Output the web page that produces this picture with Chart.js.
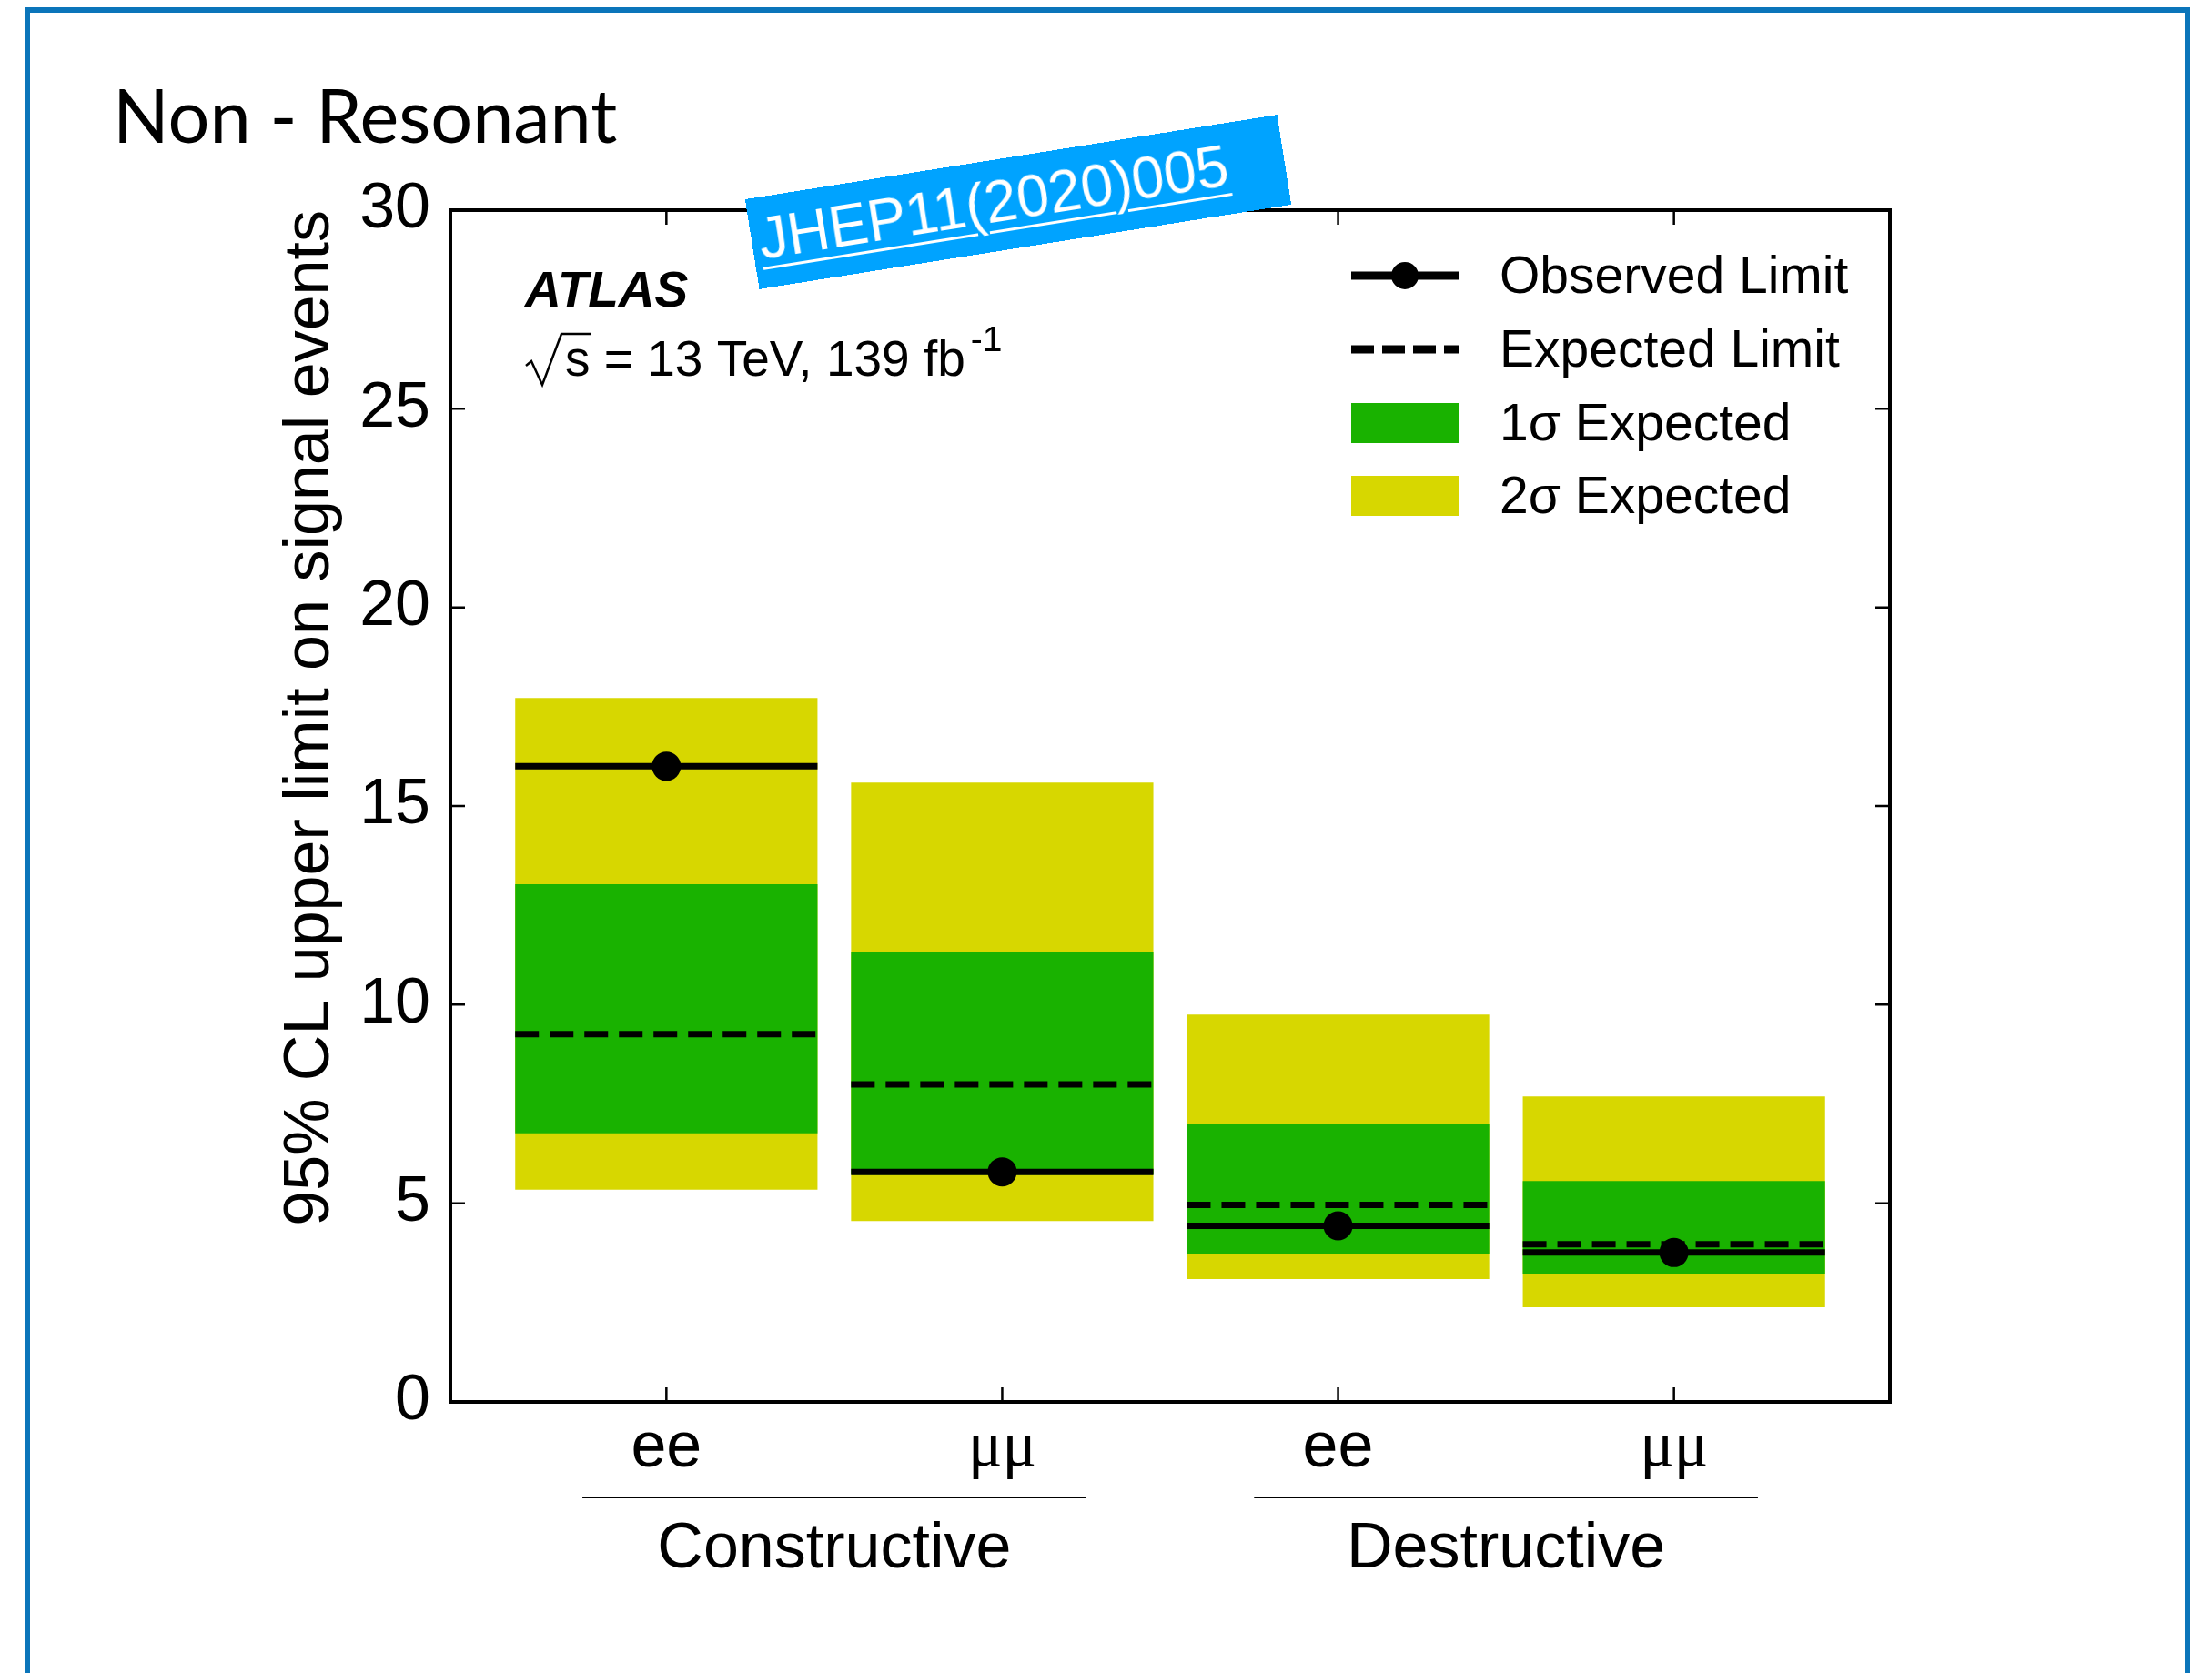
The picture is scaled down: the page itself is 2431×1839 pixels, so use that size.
<!DOCTYPE html>
<html lang="en">
<head>
  <meta charset="UTF-8">
  <title>Non - Resonant limits</title>
  <script src="https://cdn.jsdelivr.net/npm/chart.js"></script>
  <style>
    html, body { margin: 0; padding: 0; background: #fff; overflow: hidden; }
    #frame {
      position: absolute; left: 27px; top: 8px; width: 2380px; height: 2000px;
      border: 6px solid #0b75ba; box-sizing: border-box;
    }
    #chart { position: absolute; left: 0; top: 0; }
    #stamp {
      position: absolute; left: 823px; top: 172px; width: 592px; height: 100px;
      background: #00a3ff; transform: rotate(-9.03deg);
      font: 64px 'Liberation Sans', Arial, sans-serif; line-height: 92px;
      padding-left: 8px; box-sizing: border-box; white-space: nowrap;
    }
    #stamp span {
      color: #fff; text-decoration: underline;
      text-decoration-thickness: 3px; text-underline-offset: 9px;
    }
  </style>
</head>
<body>
  <div id="frame"></div>
  <canvas id="chart" width="2431" height="1839"></canvas>
  <div id="stamp"><span>JHEP11(2020)005</span></div>

  <script>
    // channels along x, grouped by interference type
    const channels = ['ee', 'μμ', 'ee', 'μμ'];
    const interference = ['Constructive', 'Destructive'];
    const channelGroup = [0, 0, 1, 1];

    // 95% CL upper limits on signal events
    const observed = [16.0, 5.79, 4.43, 3.76];
    const expected = [9.26, 7.99, 4.96, 3.97];
    const band1Lo = [6.76, 5.72, 3.73, 3.23];
    const band1Hi = [13.03, 11.33, 7.00, 5.56];
    const band2Lo = [5.34, 4.55, 3.09, 2.38];
    const band2Hi = [17.72, 15.59, 9.75, 7.69];

    const yMin = 0, yMax = 30, yStep = 5;

    const SANS = "'Liberation Sans', Arial, Helvetica, sans-serif";
    const SERIF = "'Liberation Serif', 'Times New Roman', serif";
    const GREEN = '#19b200';
    const YELLOW = '#d7d700';
    const halfWidth = 0.45;

    Chart.defaults.font.family = SANS;
    Chart.defaults.color = '#000';

    function band(lo, hi) {
      return channels.map((_, i) => ({ x: i + 1, y: [lo[i], hi[i]] }));
    }

    // one flat segment per channel, broken by a null point
    function segments(values) {
      const pts = [];
      values.forEach((v, i) => {
        const c = i + 1;
        pts.push({ x: c - halfWidth, y: v }, { x: c + halfWidth, y: v }, { x: c + 0.5, y: null });
      });
      return pts;
    }

    const decor = {
      id: 'decor',
      afterDraw(chart) {
        const { ctx, chartArea: a, scales: { x, y } } = chart;
        ctx.save();

        // axes frame
        ctx.strokeStyle = '#000';
        ctx.lineWidth = 4;
        ctx.strokeRect(a.left, a.top, a.right - a.left, a.bottom - a.top);

        // ticks pointing inwards
        ctx.lineWidth = 2.5;
        ctx.beginPath();
        y.ticks.forEach(t => {
          const py = y.getPixelForValue(t.value);
          ctx.moveTo(a.left, py); ctx.lineTo(a.left + 16, py);
          ctx.moveTo(a.right, py); ctx.lineTo(a.right - 16, py);
        });
        x.ticks.forEach(t => {
          const px = x.getPixelForValue(t.value);
          ctx.moveTo(px, a.bottom); ctx.lineTo(px, a.bottom - 16);
          ctx.moveTo(px, a.top); ctx.lineTo(px, a.top + 16);
        });
        ctx.stroke();

        // interference groups under the channel labels
        ctx.font = '70px ' + SANS;
        ctx.textAlign = 'center';
        ctx.textBaseline = 'alphabetic';
        ctx.lineWidth = 2;
        interference.forEach((name, g) => {
          const idx = channelGroup.map((v, i) => v === g ? i + 1 : null).filter(v => v !== null);
          const x0 = x.getPixelForValue(idx[0] - 0.25);
          const x1 = x.getPixelForValue(idx[idx.length - 1] + 0.25);
          ctx.beginPath();
          ctx.moveTo(x0, 1646); ctx.lineTo(x1, 1646);
          ctx.stroke();
          ctx.fillText(name, (x0 + x1) / 2, 1723);
        });

        // page heading
        ctx.textAlign = 'left';
        ctx.font = '81px Lato, ' + SANS;
        ctx.fillText('Non - Resonant', 124, 157);

        // experiment label
        ctx.font = 'italic bold 55px ' + SANS;
        ctx.fillText('ATLAS', 577, 337);
        ctx.lineWidth = 2.5;
        ctx.beginPath();
        ctx.moveTo(578, 402); ctx.lineTo(584, 397); ctx.lineTo(596, 423);
        ctx.lineTo(617, 367); ctx.lineTo(650, 367);
        ctx.stroke();
        ctx.font = '55px ' + SANS;
        const txt = 's = 13 TeV, 139 fb';
        ctx.fillText(txt, 621, 413);
        const w = ctx.measureText(txt).width;
        ctx.font = '39px ' + SANS;
        ctx.fillText('-1', 621 + w + 6, 386);

        // legend
        const lx0 = 1485, lx1 = 1603, tx = 1648;
        const rows = [303, 384, 465, 545];
        ctx.font = '57px ' + SANS;
        ctx.textBaseline = 'middle';
        const items = [
          { label: 'Observed Limit', kind: 'obs' },
          { label: 'Expected Limit', kind: 'exp' },
          { label: '1σ Expected', kind: 'box', color: GREEN },
          { label: '2σ Expected', kind: 'box', color: YELLOW }
        ];
        items.forEach((it, i) => {
          const ry = rows[i];
          if (it.kind === 'obs') {
            ctx.lineWidth = 9;
            ctx.setLineDash([]);
            ctx.beginPath(); ctx.moveTo(lx0, ry); ctx.lineTo(lx1, ry); ctx.stroke();
            ctx.beginPath(); ctx.arc((lx0 + lx1) / 2, ry, 15, 0, 2 * Math.PI); ctx.fill();
          } else if (it.kind === 'exp') {
            ctx.lineWidth = 9;
            ctx.setLineDash([25, 9]);
            ctx.beginPath(); ctx.moveTo(lx0, ry); ctx.lineTo(lx1, ry); ctx.stroke();
            ctx.setLineDash([]);
          } else {
            ctx.fillStyle = it.color;
            ctx.fillRect(lx0, ry - 22, lx1 - lx0, 44);
            ctx.fillStyle = '#000';
          }
          ctx.fillText(it.label, tx, ry + 3);
        });

        ctx.restore();
      }
    };

    const ctx = document.getElementById('chart').getContext('2d');
    new Chart(ctx, {
      type: 'bar',
      data: {
        datasets: [
          {
            type: 'scatter',
            label: 'Observed Limit',
            data: observed.map((v, i) => ({ x: i + 1, y: v })),
            pointRadius: 16,
            pointBackgroundColor: '#000',
            pointBorderWidth: 0,
            order: 0
          },
          {
            type: 'line',
            label: 'Observed Limit line',
            data: segments(observed),
            borderColor: '#000',
            borderWidth: 7,
            pointRadius: 0,
            fill: false,
            order: 1
          },
          {
            type: 'line',
            label: 'Expected Limit',
            data: segments(expected),
            borderColor: '#000',
            borderWidth: 7,
            borderDash: [26, 12],
            pointRadius: 0,
            fill: false,
            order: 1
          },
          {
            label: '1σ Expected',
            data: band(band1Lo, band1Hi),
            backgroundColor: GREEN,
            grouped: false,
            categoryPercentage: 1,
            barPercentage: 0.9,
            order: 2
          },
          {
            label: '2σ Expected',
            data: band(band2Lo, band2Hi),
            backgroundColor: YELLOW,
            grouped: false,
            categoryPercentage: 1,
            barPercentage: 0.9,
            order: 3
          }
        ]
      },
      options: {
        responsive: false,
        animation: false,
        events: [],
        layout: { padding: { left: 0, top: 231, right: 354, bottom: 0 } },
        plugins: { legend: { display: false }, tooltip: { enabled: false } },
        scales: {
          x: {
            type: 'linear',
            min: 0.357,
            max: 4.643,
            offset: false,
            grid: { display: false },
            border: { display: false },
            afterBuildTicks: scale => { scale.ticks = channels.map((_, i) => ({ value: i + 1 })); },
            afterFit: scale => { scale.height = 298; },
            ticks: {
              padding: 2,
              maxRotation: 0,
              autoSkip: false,
              color: '#000',
              font: c => ({ size: 70, family: channels[c.index] && channels[c.index].includes('μ') ? SERIF : SANS }),
              callback: value => channels[value - 1]
            }
          },
          y: {
            min: yMin,
            max: yMax,
            grid: { display: false },
            border: { display: false },
            afterFit: scale => { scale.width = 495; },
            ticks: { stepSize: yStep, padding: 14, color: '#000', font: { size: 70 } },
            title: {
              display: true,
              text: '95% CL upper limit on signal events',
              align: 'end',
              color: '#000',
              font: { size: 70 },
              padding: { top: 300, bottom: 0 }
            }
          }
        }
      },
      plugins: [decor]
    });
  </script>
</body>
</html>
